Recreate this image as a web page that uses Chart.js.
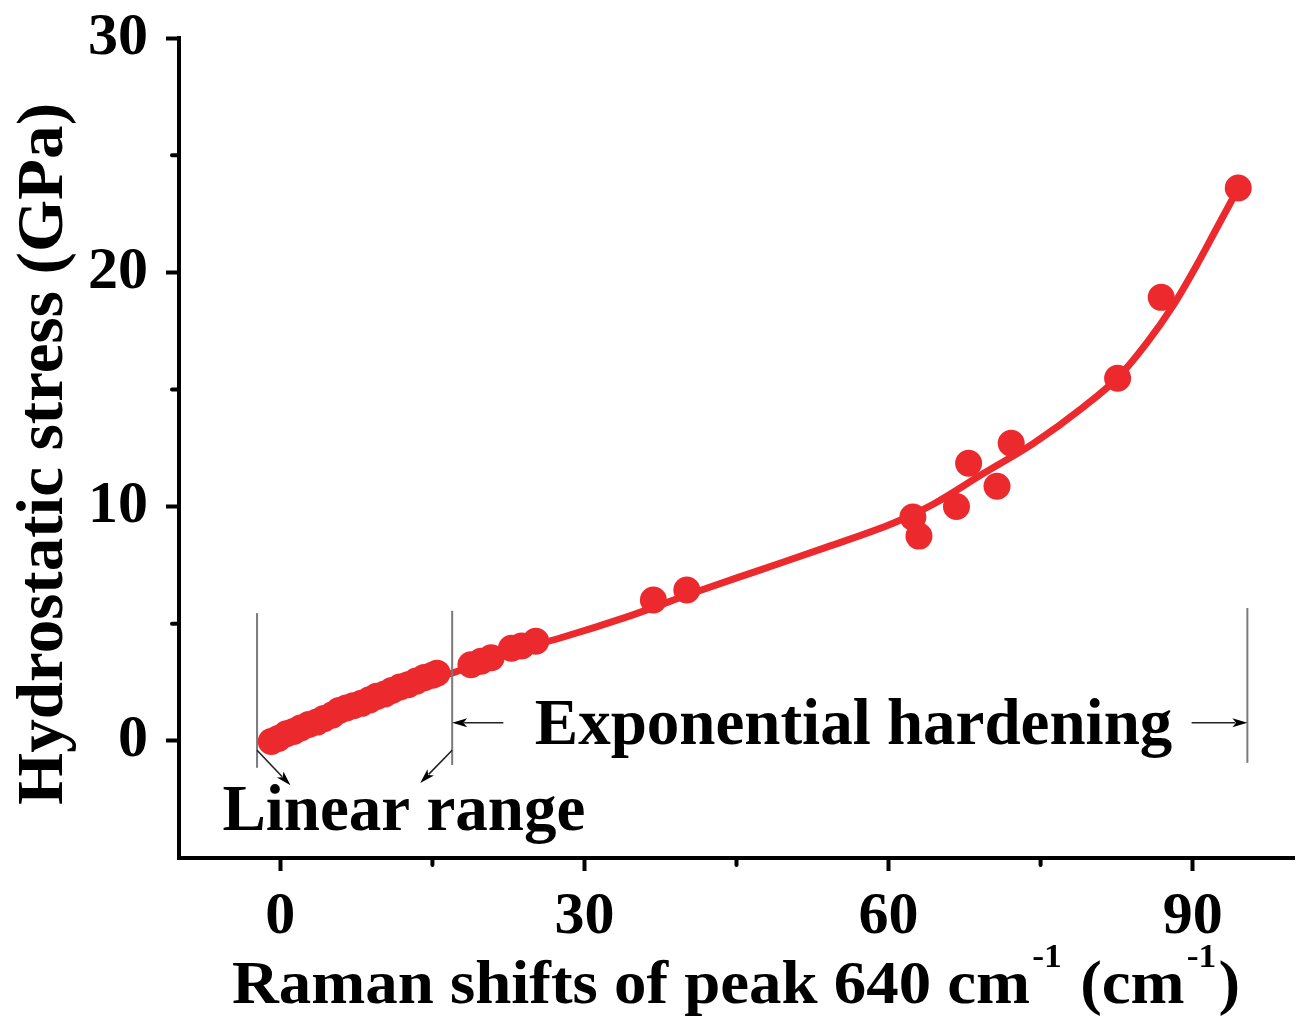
<!DOCTYPE html>
<html>
<head>
<meta charset="utf-8">
<script src="https://cdn.jsdelivr.net/npm/chart.js@4.4.1/dist/chart.umd.min.js"></script>
<style>
html,body{margin:0;padding:0;background:#fff;overflow:hidden;}
#wrap{width:1301px;height:1024px;position:relative;overflow:hidden;}
#c{display:block;}
</style>
</head>
<body>
<div id="wrap"><canvas id="c" width="1301" height="1024"></canvas></div>
<script>
// ---- data ----
const pointsX = [-0.9, -0.2, 0.6, 1.3, 2.0, 2.8, 3.6, 4.3, 5.1, 5.8, 6.5, 7.2, 8.0, 8.8, 9.5, 10.3, 11.0, 11.8, 12.6, 13.4, 14.2, 15.0, 15.45,
                 18.8, 19.8, 20.8, 22.8, 23.8, 25.2,
                 36.8, 40.1,
                 62.4, 63.0, 66.7, 67.9, 70.7, 72.1,
                 82.6, 86.9, 94.5];
const pointsY = [-0.03, 0.1, 0.3, 0.4, 0.55, 0.7, 0.8, 0.95, 1.1, 1.3, 1.4, 1.5, 1.6, 1.75, 1.9, 2.0, 2.15, 2.3, 2.4, 2.55, 2.7, 2.8, 2.89,
                 3.25, 3.4, 3.55, 3.95, 4.05, 4.25,
                 6.01, 6.44,
                 9.55, 8.74, 10.0, 11.85, 10.87, 12.7,
                 15.48, 18.93, 23.6];
const fitX = [-1.0, 2, 5, 8, 11, 14, 17, 20, 23, 27.6, 34.2, 40.7, 47.3, 53.9, 60.5, 64.4, 69.3, 74.3, 79.2, 82.6, 85.5, 88.1, 90.4, 92.4, 94.4];
const fitY = [0.0, 0.55, 1.1, 1.6, 2.15, 2.6, 2.9, 3.4, 3.85, 4.39, 5.29, 6.31, 7.29, 8.27, 9.3, 10.1, 11.4, 12.7, 14.24, 15.5, 17.0, 18.6, 20.3, 21.9, 23.5];

const xMajorTicks = [0, 30, 60, 90];
const xMinorTicks = [15, 45, 75];
const yMajorTicks = [0, 10, 20, 30];
const yMinorTicks = [5, 15, 25];

const xTitleParts = ["Raman shifts of peak 640 cm", "-1", " (cm", "-1", ")"];
const yTitle = "Hydrostatic stress (GPa)";

// annotation (in data units)
const guideX = [-2.3, 16.95, 95.4];
const guideTop = [5.45, 5.55, 5.67];
const guideBottom = [-1.15, -1.03, -0.94];
const arrowFrom = [[-2.3, -0.4], [16.95, -0.4], [22.0, 0.77], [89.9, 0.77]];
const arrowTo = [[1.0, -1.9], [13.8, -1.8], [16.95, 0.77], [95.4, 0.77]];
const noteTexts = ["Linear range", "Exponential hardening"];
const noteX = [-5.72, 25.1];
const noteY = [-3.8, -0.13];

const RED = 'rgb(236,42,46)';
const FONT = '"Liberation Serif", "Times New Roman", serif';

const pts = pointsX.map((x, i) => ({x: x, y: pointsY[i]}));
const fit = fitX.map((x, i) => ({x: x, y: fitY[i]}));

const deco = {
  id: 'deco',
  beforeDraw(chart) {
    const ctx = chart.ctx;
    ctx.save();
    ctx.fillStyle = '#fff';
    ctx.fillRect(0, 0, chart.width, chart.height);
    ctx.restore();
  },
  afterDraw(chart) {
    const ctx = chart.ctx;
    const xs = chart.scales.x, ys = chart.scales.y;
    const ca = chart.chartArea;
    ctx.save();
    // minor ticks
    ctx.strokeStyle = '#000';
    ctx.lineWidth = 4;
    ctx.lineCap = 'round';
    xMinorTicks.forEach(v => {
      const p = xs.getPixelForValue(v);
      ctx.beginPath(); ctx.moveTo(p, ca.bottom); ctx.lineTo(p, ca.bottom + 7); ctx.stroke();
    });
    yMinorTicks.forEach(v => {
      const p = ys.getPixelForValue(v);
      ctx.beginPath(); ctx.moveTo(ca.left, p); ctx.lineTo(ca.left - 7, p); ctx.stroke();
    });
    ctx.lineCap = 'butt';
    // guide lines
    ctx.strokeStyle = '#7a7a7a';
    ctx.lineWidth = 2;
    guideX.forEach((gx, i) => {
      const px = xs.getPixelForValue(gx);
      ctx.beginPath();
      ctx.moveTo(px, ys.getPixelForValue(guideTop[i]));
      ctx.lineTo(px, ys.getPixelForValue(guideBottom[i]));
      ctx.stroke();
    });
    // arrows
    arrowFrom.forEach((f, i) => {
      const x1 = xs.getPixelForValue(f[0]), y1 = ys.getPixelForValue(f[1]);
      const x2 = xs.getPixelForValue(arrowTo[i][0]), y2 = ys.getPixelForValue(arrowTo[i][1]);
      const ang = Math.atan2(y2 - y1, x2 - x1);
      const hl = 15, hw = 4.5;
      ctx.strokeStyle = '#222';
      ctx.lineWidth = 1.6;
      ctx.beginPath();
      ctx.moveTo(x1, y1);
      ctx.lineTo(x2 - Math.cos(ang) * hl * 0.8, y2 - Math.sin(ang) * hl * 0.8);
      ctx.stroke();
      ctx.fillStyle = '#000';
      ctx.beginPath();
      ctx.moveTo(x2, y2);
      ctx.lineTo(x2 - Math.cos(ang) * hl - Math.sin(ang) * hw, y2 - Math.sin(ang) * hl + Math.cos(ang) * hw);
      ctx.lineTo(x2 - Math.cos(ang) * hl * 0.75, y2 - Math.sin(ang) * hl * 0.75);
      ctx.lineTo(x2 - Math.cos(ang) * hl + Math.sin(ang) * hw, y2 - Math.sin(ang) * hl - Math.cos(ang) * hw);
      ctx.closePath();
      ctx.fill();
    });
    // notes
    ctx.fillStyle = '#000';
    ctx.font = 'bold 65px ' + FONT;
    ctx.textAlign = 'left';
    ctx.textBaseline = 'alphabetic';
    noteTexts.forEach((t, i) => {
      ctx.fillText(t, xs.getPixelForValue(noteX[i]), ys.getPixelForValue(noteY[i]));
    });
    // x title with superscripts
    const mainF = 'bold 62px ' + FONT;
    const supF = 'bold 34px ' + FONT;
    let total = 0;
    const widths = xTitleParts.map((t, i) => {
      ctx.font = (i % 2 === 1) ? supF : mainF;
      const w = ctx.measureText(t).width + ((i % 2 === 1) ? 4 : 0);
      total += w;
      return w;
    });
    const targetW = 1008;
    const sx = targetW / total;
    ctx.save();
    ctx.translate(232, 1003);
    ctx.scale(sx, 1);
    let cx = 0;
    xTitleParts.forEach((t, i) => {
      const sup = (i % 2 === 1);
      ctx.font = sup ? supF : mainF;
      ctx.fillText(t, cx + (sup ? 2 : 0), sup ? -36 : 0);
      cx += widths[i];
    });
    ctx.restore();
    // y title
    ctx.save();
    ctx.font = 'bold 66px ' + FONT;
    const yw = ctx.measureText(yTitle).width;
    const ysx = 702 / yw;
    ctx.translate(62, 805);
    ctx.rotate(-Math.PI / 2);
    ctx.scale(ysx, 1);
    ctx.textAlign = 'left';
    ctx.fillText(yTitle, 0, 0);
    ctx.restore();
    ctx.restore();
  }
};

const tickFont = {family: FONT, size: 60, weight: 'bold'};

new Chart(document.getElementById('c'), {
  type: 'scatter',
  data: {
    datasets: [
      {
        label: 'fit',
        data: fit,
        showLine: true,
        borderColor: RED,
        borderWidth: 7,
        pointRadius: 0,
        cubicInterpolationMode: 'monotone',
        fill: false
      },
      {
        label: 'data',
        data: pts,
        showLine: false,
        backgroundColor: RED,
        borderColor: RED,
        borderWidth: 0,
        pointRadius: 13.5,
        pointHoverRadius: 13.5
      }
    ]
  },
  options: {
    responsive: false,
    animation: false,
    events: [],
    layout: {autoPadding: false, padding: {left: 0, top: 38, right: 7, bottom: 0}},
    plugins: {legend: {display: false}, tooltip: {enabled: false}},
    scales: {
      x: {
        type: 'linear',
        min: -10, max: 100,
        afterBuildTicks: s => { s.ticks = xMajorTicks.map(v => ({value: v})); },
        afterFit: s => { s.height = 166; s.paddingLeft = 0; s.paddingRight = 0; s.paddingTop = 0; s.paddingBottom = 0; },
        border: {display: true, width: 4, color: '#000'},
        grid: {display: true, drawOnChartArea: false, drawTicks: true, tickLength: 13, tickWidth: 4, tickColor: '#000', color: '#000'},
        ticks: {font: tickFont, color: '#000', padding: 10, maxRotation: 0, autoSkip: false}
      },
      y: {
        type: 'linear',
        min: -5, max: 30,
        afterBuildTicks: s => { s.ticks = yMajorTicks.map(v => ({value: v})); },
        afterFit: s => { s.width = 179; s.paddingLeft = 0; s.paddingRight = 0; s.paddingTop = 0; s.paddingBottom = 0; },
        border: {display: true, width: 4, color: '#000'},
        grid: {display: true, drawOnChartArea: false, drawTicks: true, tickLength: 13, tickWidth: 4, tickColor: '#000', color: '#000'},
        ticks: {font: tickFont, color: '#000', padding: 18, autoSkip: false}
      }
    }
  },
  plugins: [deco]
});
</script>
</body>
</html>
